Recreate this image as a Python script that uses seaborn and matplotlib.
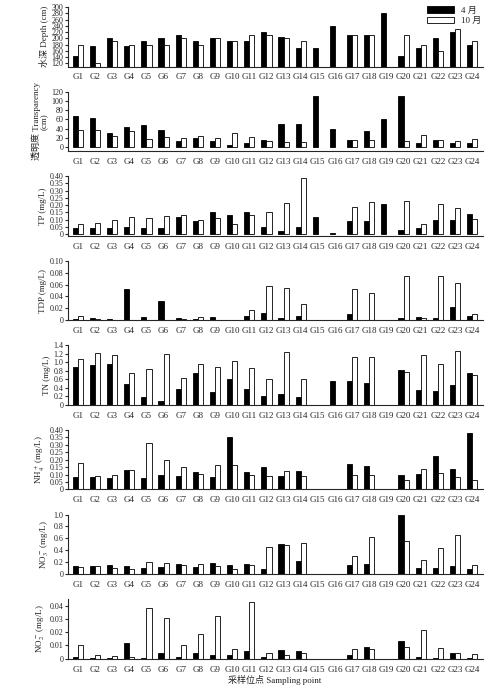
import numpy as np
import pandas as pd
import matplotlib
matplotlib.use("Agg")
import matplotlib.pyplot as plt
from matplotlib.ticker import FuncFormatter, MultipleLocator
import seaborn as sns

nan = np.nan
sites = [f"G{i}" for i in range(1, 25)]

depth_apr = [145, 177, 200, 176, 190, 202, 210, 190, 200, 190, 190, 220, 205, 170, 170, 240, 210, 210, 280, 145, 170, 200, 220, 180]
depth_oct = [180, 120, 190, 180, 180, 180, 200, 180, 200, 190, 210, 210, 200, 190, nan, nan, 210, 210, nan, 210, 180, 160, 230, 190]
sd_apr = [68, 63, 32, 43, 48, 38, 13, 21, 13, 6, 10, 15, 50, 50, 110, 40, 15, 35, 60, 110, 10, 15, 10, 10]
sd_oct = [37, 38, 24, 35, 17, 23, 21, 24, 20, 32, 22, 14, 12, 11, nan, nan, 16, 15, nan, 14, 27, 15, 14, 19]
tp_apr = [.04, .04, .04, .05, .04, .04, .12, .09, .15, .13, .15, .05, .02, .05, .12, .01, .09, .09, .21, .03, .04, .10, .10, .14]
tp_oct = [.07, .075, .10, .12, .11, .125, .13, .10, .11, .07, .13, .15, .215, .385, nan, nan, .19, .22, nan, .23, .07, .21, .18, .105]
tdp_apr = [.003, .004, .003, .053, .006, .032, .004, .003, .006, .001, .008, .012, .004, .008, nan, nan, .010, nan, nan, .004, .006, .004, .022, .008]
tdp_oct = [.007, .003, nan, .001, nan, nan, .002, .006, .001, nan, .017, .057, .055, .028, nan, nan, .052, .046, nan, .075, .004, .074, .063, .011]
tn_apr = [.88, .93, .96, .48, .18, .10, .38, .76, .31, .62, .37, .20, .25, .19, nan, .56, .57, .52, nan, .81, .35, .33, .47, .75]
tn_oct = [1.08, 1.21, 1.17, .74, .85, 1.19, .63, .96, .89, 1.03, .86, .60, 1.25, .62, nan, nan, 1.13, 1.13, nan, .77, 1.18, .96, 1.26, .70]
nh4_apr = [.085, .082, .078, .13, .08, .10, .088, .12, .083, .355, .118, .152, .09, .123, nan, nan, .17, .16, nan, .10, .105, .225, .137, .38]
nh4_oct = [.18, .092, .095, .13, .315, .20, .15, .105, .165, .165, .095, .09, .125, .09, nan, nan, .10, .095, nan, .063, .138, .11, .085, .063]
no3_apr = [.13, .13, .15, .14, .10, .12, .17, .12, .18, .15, .17, .09, .51, .22, nan, nan, .16, .17, nan, 1.0, .10, .10, .14, .09]
no3_oct = [.12, .14, .10, .09, .21, .18, .15, .17, .13, .09, .16, .46, .49, .52, nan, nan, .30, .62, nan, .55, .23, .43, .66, .15]
no2_apr = [.001, .0008, .0008, .012, .0008, .0045, .0015, .004, .0025, .003, .0055, .001, .0065, .0055, nan, nan, .003, .009, nan, .013, .0015, .0005, .0045, .0008]
no2_oct = [.010, .003, .002, .0012, .038, .031, .010, .019, .032, .007, .043, .0045, .003, .004, nan, nan, .007, .007, nan, .0085, .022, .008, .0045, .0035]

panels = [
    ("水深 Depth (cm)", depth_apr, depth_oct, (110, 300), 20, "%d"),
    ("透明度 Transparency\n(cm)", sd_apr, sd_oct, (-8, 120), 20, "%d"),
    ("TP (mg/L)", tp_apr, tp_oct, (-0.01, 0.40), 0.05, "%.2f"),
    ("TDP (mg/L)", tdp_apr, tdp_oct, (0, 0.10), 0.02, "%.2f"),
    ("TN (mg/L)", tn_apr, tn_oct, (0, 1.4), 0.2, "%.1f"),
    ("NH$_4^+$ (mg/L)", nh4_apr, nh4_oct, (0, 0.40), 0.05, "%.2f"),
    ("NO$_3^-$ (mg/L)", no3_apr, no3_oct, (0, 1.0), 0.2, "%.1f"),
    ("NO$_2^-$ (mg/L)", no2_apr, no2_oct, (0, 0.045), 0.01, "%.2f"),
]

sns.set_style("ticks")
plt.rcParams["font.family"] = ["Liberation Serif", "Noto Sans CJK SC"]
plt.rcParams["mathtext.fontset"] = "stix"
plt.rcParams["font.size"] = 7

fig, axes = plt.subplots(8, 1, figsize=(5, 6.97), dpi=100)
fig.subplots_adjust(left=0.135, right=0.965, top=0.99, bottom=0.055, hspace=0.42)

for ax, (label, apr, octo, ylim, step, fmt) in zip(axes, panels):
    df = pd.DataFrame({
        "site": sites * 2,
        "value": list(apr) + list(octo),
        "month": ["4 月"] * 24 + ["10 月"] * 24,
    })
    sns.barplot(data=df, x="site", y="value", hue="month", order=sites,
                hue_order=["4 月", "10 月"], palette=["black", "white"],
                edgecolor="black", linewidth=0.6, width=0.6, ax=ax,
                legend=(ax is axes[0]))
    ax.set_ylim(*ylim)
    ax.yaxis.set_major_locator(MultipleLocator(step))
    ax.yaxis.set_major_formatter(FuncFormatter(
        lambda v, p, f=fmt: "0" if abs(v) < 1e-9 else f % v))
    ax.set_ylabel(label, fontsize=6.5, labelpad=2, linespacing=1.0)
    ax.set_xlabel("")
    ax.tick_params(axis="x", length=0, labelsize=6.5, pad=5)
    ax.tick_params(axis="y", length=2, labelsize=5.8, pad=1)
    ax.set_xlim(-0.6, 23.6)
    sns.despine(ax=ax)

leg = axes[0].legend(loc="upper right", bbox_to_anchor=(1.01, 1.1), frameon=False,
                     fontsize=6.5, handlelength=3.0, handleheight=0.7,
                     labelspacing=0.2, borderpad=0.1)
axes[-1].set_xlabel("采样位点 Sampling point", fontsize=6.5, labelpad=1)

fig.savefig("out.png", dpi=100)
